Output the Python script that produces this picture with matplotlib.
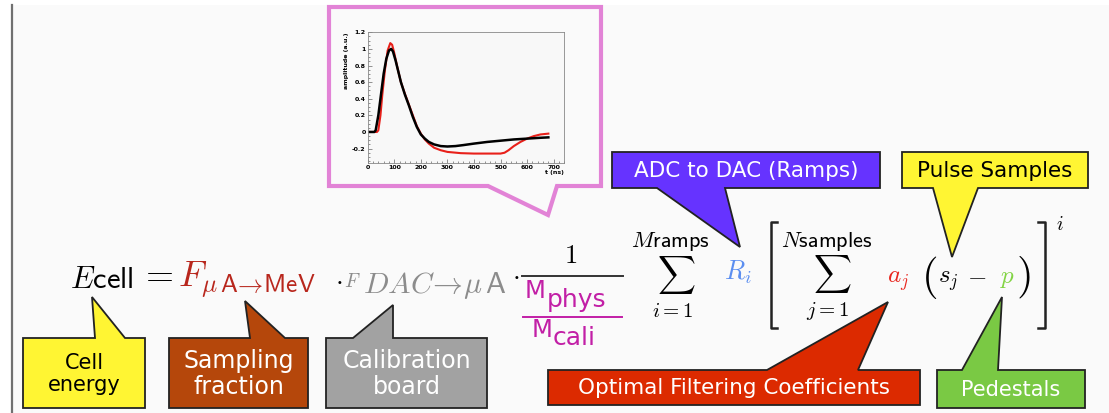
import matplotlib
matplotlib.use('Agg')
import matplotlib.pyplot as plt
from matplotlib.patches import Polygon, Rectangle

plt.rcParams['mathtext.fontset'] = 'cm'
plt.rcParams['font.family'] = 'DejaVu Sans'

# pulse shapes (t in ns, amplitude in a.u.)
t_black = [0, 25, 30, 40, 50, 60, 70, 80, 88, 95, 105, 115, 125, 140, 155, 170, 185,
           200, 215, 230, 250, 275, 300, 330, 360, 400, 450, 500, 550, 600, 650, 680]
amp_black = [0, 0, 0.02, 0.2, 0.45, 0.7, 0.88, 0.98, 1.0, 0.97, 0.86, 0.73, 0.6, 0.45,
             0.32, 0.18, 0.06, -0.03, -0.08, -0.12, -0.15, -0.17, -0.175, -0.17, -0.158,
             -0.14, -0.12, -0.105, -0.09, -0.08, -0.07, -0.065]
t_red = [0, 35, 40, 48, 55, 65, 75, 85, 92, 100, 110, 125, 140, 155, 170, 185, 200, 215,
         230, 250, 275, 300, 350, 400, 450, 500, 515, 530, 550, 575, 600, 625, 650, 680]
amp_red = [0, 0, 0.02, 0.2, 0.45, 0.75, 0.98, 1.07, 1.05, 0.95, 0.8, 0.6, 0.46, 0.33, 0.2,
           0.07, -0.02, -0.09, -0.14, -0.19, -0.22, -0.24, -0.255, -0.26, -0.26, -0.26,
           -0.25, -0.22, -0.17, -0.12, -0.08, -0.05, -0.03, -0.02]
t_ticks = [0, 100, 200, 300, 400, 500, 600, 700]
amp_ticks = [-0.2, 0, 0.2, 0.4, 0.6, 0.8, 1.0, 1.2]
amp_tick_labels = ['-0.2', '0', '0.2', '0.4', '0.6', '0.8', '1', '1.2']

# callout labels and colours
labels = ['ADC to DAC (Ramps)', 'Pulse Samples', 'Cell\nenergy', 'Sampling\nfraction',
          'Calibration\nboard', 'Optimal Filtering Coefficients', 'Pedestals']
face_colors = ['#6633ff', '#fff533', '#fff533', '#b5470b', '#a2a2a2', '#dc2a00', '#7ac944']
text_colors = ['white', 'black', 'black', 'white', 'white', 'white', 'white']

W, H = 1109, 413
fig = plt.figure(figsize=(W / 100, H / 100), dpi=100)
ax = fig.add_axes([0, 0, 1, 1])
ax.set_xlim(0, W)
ax.set_ylim(H, 0)
ax.axis('off')

# panel background + left border
ax.add_patch(Rectangle((12, 5), W - 12, H - 5, fc='#fafafa', ec='none', zorder=0))
ax.plot([12, 12], [5, H], color='#707070', lw=1.6, zorder=1)


def callout(box, tail, fc, ec='#222222', lw=1.3, text=None, tc='black', size=15, z=5):
    x0, y0, x1, y1 = box
    xa, tx, ty, xb = tail
    if ty > y1:  # tail hangs below the box
        pts = [(x0, y0), (x1, y0), (x1, y1), (xb, y1), (tx, ty), (xa, y1), (x0, y1)]
    else:        # tail points up
        pts = [(x0, y1), (x1, y1), (x1, y0), (xb, y0), (tx, ty), (xa, y0), (x0, y0)]
    ax.add_patch(Polygon(pts, closed=True, fc=fc, ec=ec, lw=lw, zorder=z,
                         joinstyle='miter'))
    if text:
        ax.text((x0 + x1) / 2, (y0 + y1) / 2 + 1, text, ha='center', va='center',
                fontsize=size, color=tc, linespacing=1.15, zorder=z + 1)


# pink speech bubble around the inset
callout((329, 7, 601, 186), (488, 548, 215, 557), fc='none', ec='#e283d6', lw=3, z=2)

callout((612, 152, 880, 188), (657, 740, 247, 725), face_colors[0], text=labels[0],
        tc=text_colors[0], size=15.5)
callout((902, 152, 1088, 188), (933, 952, 257, 978), face_colors[1], text=labels[1],
        tc=text_colors[1], size=15.5)
callout((23, 338, 145, 408), (95, 92, 297, 125), face_colors[2], text=labels[2],
        tc=text_colors[2], size=15)
callout((169, 338, 308, 408), (250, 245, 301, 285), face_colors[3], text=labels[3],
        tc=text_colors[3], size=17)
callout((326, 338, 487, 408), (353, 393, 305, 393), face_colors[4], text=labels[4],
        tc=text_colors[4], size=17)
callout((548, 370, 920, 405), (767, 888, 302, 858), face_colors[5], text=labels[5],
        tc=text_colors[5], size=15.5)
callout((937, 370, 1085, 408), (962, 1002, 297, 998), face_colors[6], text=labels[6],
        tc=text_colors[6], size=15)


def put(s, x, y, size, color='black', ha='left', va='baseline'):
    ax.text(x, y, s, fontsize=size, color=color, ha=ha, va=va, zorder=3)


red1 = '#b8261c'
gray = '#8c8c8c'
mag = '#c21fa6'
blue = '#5b8ef0'
red2 = '#e8261e'
green = '#82d444'

# E_cell = F_{uA->MeV} . F_{DAC->uA} . 1/(Mphys/Mcali) sum R_i [ sum a_j (s_j - p) ]^i
put(r'$E\mathsf{cell}$', 70, 288, 22)
put(r'$=$', 139, 284, 26)
put(r'$F_{\mu\,\mathsf{A}\!\rightarrow\!\mathsf{MeV}}$', 178, 287, 26, red1)
put(r'$\cdot$', 339, 287, 20, ha='center')
put(r'$F$', 344, 287, 14, gray)
put(r'$DAC\!\rightarrow\!\mu\,\mathsf{A}$', 363, 293, 21.5, gray)
put(r'$\cdot$', 516, 282, 20, ha='center')

put(r'$1$', 564, 263, 19)
ax.plot([522, 623], [276, 276], color='#333333', lw=1.4, zorder=3)
put('M', 525, 298, 17.5, mag)
put('phys', 547, 307, 18, mag)
ax.plot([523, 622], [317, 317], color=mag, lw=1.4, zorder=3)
put('M', 532, 337, 17.5, mag)
put('cali', 553, 345, 18, mag)

put(r'$M\mathsf{ramps}$', 631, 247, 16)
put(r'$\sum$', 676, 275, 19, ha='center', va='center')
put(r'$i=1$', 673, 317, 15, ha='center')
put(r'$R_i$', 724, 280, 19, blue)

# square brackets
ax.plot([777, 771, 771, 777], [222, 222, 328, 328], color='#222222', lw=1.8, zorder=3)
ax.plot([1038, 1045, 1045, 1038], [222, 222, 328, 328], color='#222222', lw=1.8, zorder=3)
put(r'$N\mathsf{samples}$', 781, 247, 16)
put(r'$\sum$', 832, 274, 19, ha='center', va='center')
put(r'$j=1$', 828, 316, 15, ha='center')
put(r'$a_j$', 887, 283, 18, red2)
put(r'$($', 921, 288, 31)
put(r'$s_j$', 938, 283, 18)
put(r'$-$', 967, 283, 18)
put(r'$p$', 1000, 283, 18, green)
put(r'$)$', 1016, 288, 31)
put(r'$i$', 1056, 230, 14)

# inset pulse plot
ins = fig.add_axes([367.7 / W, 1 - 162.7 / H, (564.3 - 367.7) / W, (162.7 - 32.3) / H])
ins.set_facecolor('#f8f8f8')
ins.plot(t_red, amp_red, color='#e8201a', lw=1.5)
ins.plot(t_black, amp_black, color='black', lw=1.8)
ins.set_xlim(0, 740)
ins.set_ylim(-0.37, 1.2)
ins.set_xticks(t_ticks)
ins.set_yticks(amp_ticks)
ins.set_yticklabels(amp_tick_labels)
ins.minorticks_on()
ins.tick_params(which='both', direction='in', labelsize=4.5, pad=1.5, width=0.5,
                color='#666666')
ins.tick_params(which='major', length=3)
ins.tick_params(which='minor', length=1.5)
for lab in ins.get_xticklabels() + ins.get_yticklabels():
    lab.set_fontweight('bold')
for sp in ins.spines.values():
    sp.set_color('#888888')
    sp.set_linewidth(0.6)
ins.set_ylabel('amplitude (a.u.)', fontsize=4.5, fontweight='bold', loc='top', labelpad=2)
ins.set_xlabel('t (ns)', fontsize=4.5, fontweight='bold', loc='right', labelpad=0.5)

fig.savefig('out.png', dpi=100, facecolor='white')
